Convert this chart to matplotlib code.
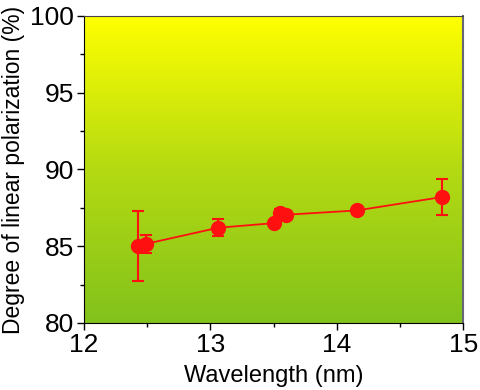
import matplotlib
matplotlib.use('Agg')
import matplotlib.pyplot as plt
import numpy as np
from matplotlib.colors import LinearSegmentedColormap

plt.rcParams['font.family'] = ['Liberation Sans', 'DejaVu Sans']

# data
wavelength = [12.43, 12.49, 13.06, 13.50, 13.55, 13.60, 14.16, 14.83]
dolp = [85.0, 85.15, 86.2, 86.5, 87.15, 87.05, 87.33, 88.2]
dolp_err = [2.3, 0.6, 0.55, 0.2, 0.3, 0.25, 0.15, 1.2]

fig = plt.figure(figsize=(4.8, 3.9), dpi=100)
ax = fig.add_axes([0.175, 0.172, 0.79, 0.787])

# yellow -> green background gradient
cmap = LinearSegmentedColormap.from_list('bg', ['#82c21c', '#b4da12', '#ffff00'])
grad = np.linspace(0, 1, 256).reshape(-1, 1)
ax.imshow(grad, cmap=cmap, aspect='auto', origin='lower',
          extent=[12, 15, 80, 100], zorder=0)

ax.errorbar(wavelength, dolp, yerr=dolp_err, color='#ff1010', marker='o',
            markersize=10, linewidth=1.3, elinewidth=1.5, capsize=4.5,
            capthick=1.5, zorder=3)

ax.set_xlim(12, 15)
ax.set_ylim(80, 100)
ax.set_xticks([12, 13, 14, 15])
ax.set_yticks([80, 85, 90, 95, 100])
ax.set_xticks(np.arange(12.5, 15, 1), minor=True)
ax.set_yticks(np.arange(82.5, 100, 5), minor=True)
ax.tick_params(which='major', direction='out', length=5, width=1, labelsize=19,
               top=False, right=False, pad=2)
ax.tick_params(which='minor', direction='out', length=3, width=1,
               top=False, right=False)
ax.spines['top'].set_color('#444444')
ax.spines['right'].set_color('#666677')
ax.spines['right'].set_linewidth(1.5)

ax.set_xlabel('Wavelength (nm)', fontsize=17, labelpad=6)
ax.set_ylabel('Degree of linear polarization (%)', fontsize=16.5, labelpad=4)

fig.savefig('out.png', dpi=100)
